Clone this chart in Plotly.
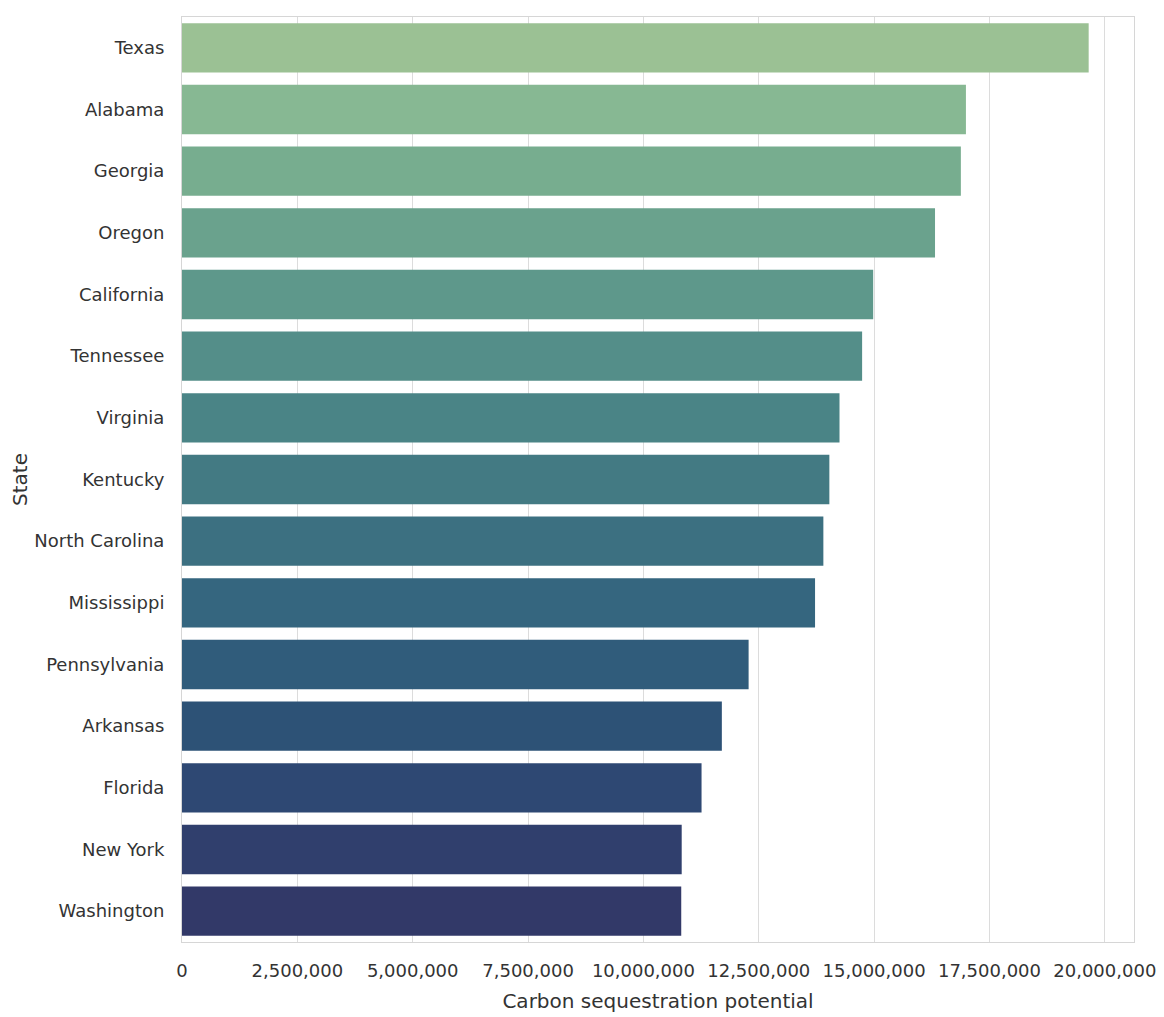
import plotly.graph_objects as go

states = ["Texas", "Alabama", "Georgia", "Oregon", "California", "Tennessee",
          "Virginia", "Kentucky", "North Carolina", "Mississippi", "Pennsylvania",
          "Arkansas", "Florida", "New York", "Washington"]
values = [19650000, 16990000, 16880000, 16320000, 14980000, 14740000,
          14250000, 14030000, 13900000, 13720000, 12280000,
          11700000, 11260000, 10830000, 10820000]
colors = ["#9BC194", "#87B893", "#77AD8F", "#6AA28D", "#5E988B", "#548E89",
          "#4A8486", "#437A83", "#3C7081", "#35667F", "#305C7B",
          "#2D5276", "#2E4873", "#303F6D", "#323968"]
x_ticks = [0, 2500000, 5000000, 7500000, 10000000, 12500000, 15000000, 17500000, 20000000]

FONT = "DejaVu Sans"
TXT = "#333333"

fig = go.Figure(go.Bar(
    x=values, y=states, orientation="h",
    marker=dict(color=colors, line=dict(width=0)),
    width=0.8,
))

fig.update_layout(
    width=1156, height=1009,
    margin=dict(l=173, r=27, t=8, b=75),
    paper_bgcolor="white", plot_bgcolor="white",
    showlegend=False,
    font=dict(family=FONT, size=18, color=TXT),
)
fig.update_xaxes(
    range=[0, max(values) * 1.05],
    tickvals=x_ticks, tickformat=",",
    showgrid=True, gridcolor="#DCDCDC", gridwidth=1,
    zeroline=False,
    showline=True, linecolor="#D6D6D6", linewidth=1, mirror=True,
    ticks="", ticklabelstandoff=12,
    tickfont=dict(family=FONT, size=18, color=TXT),
    title=dict(text="Carbon sequestration potential", font=dict(family=FONT, size=20, color=TXT), standoff=14),
)
fig.update_yaxes(
    categoryorder="array", categoryarray=states, autorange=False,
    range=[len(states) - 0.5, -0.5],
    showgrid=False, zeroline=False,
    showline=True, linecolor="#D6D6D6", linewidth=1, mirror=True,
    ticks="", ticklabelstandoff=13,
    tickfont=dict(family=FONT, size=18, color=TXT),
    title=dict(text="State", font=dict(family=FONT, size=20, color=TXT), standoff=4),
)

fig.write_html("out.html")
